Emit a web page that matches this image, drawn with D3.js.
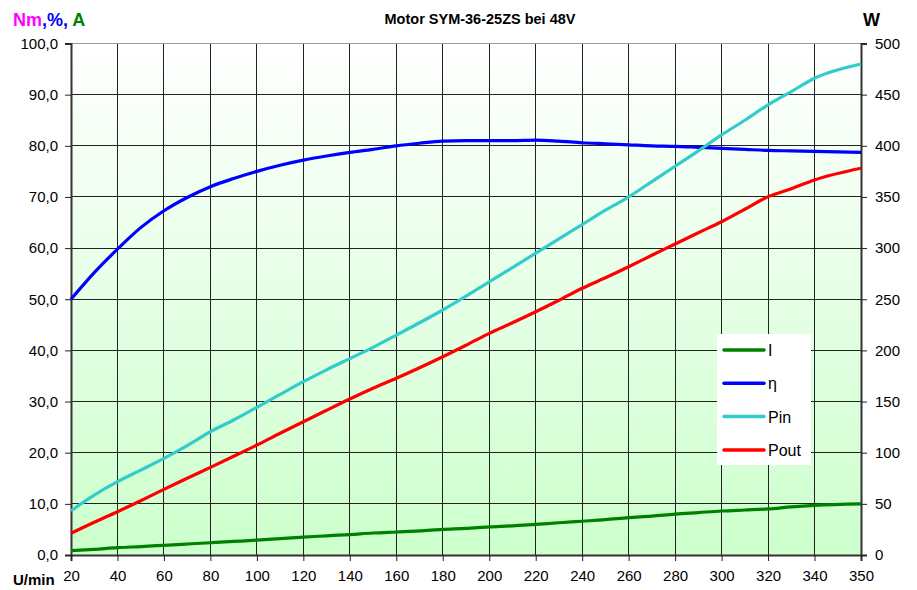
<!DOCTYPE html>
<html>
<head>
<meta charset="utf-8">
<script src="https://cdn.jsdelivr.net/npm/d3@7"></script>
<style>
  body { margin: 0; background: #fff; }
  text { font-family: Arial, "Liberation Sans", sans-serif; }
</style>
</head>
<body>
<div id="chart"></div>
<script>
// speed (U/min)
var speed = [20, 30, 40, 50, 60, 70, 80, 90, 100, 110, 120, 130, 140, 150, 160, 170, 180,
  190, 200, 210, 220, 230, 240, 250, 260, 270, 280, 290, 300, 310, 320, 330, 340, 350];

// current I (A), left axis
var current = [0.84, 1.1, 1.43, 1.65, 1.9, 2.15, 2.4, 2.65, 2.9, 3.2, 3.5, 3.75, 4.0, 4.3, 4.5, 4.7, 5.0,
  5.2, 5.5, 5.7, 6.0, 6.3, 6.6, 6.9, 7.3, 7.6, 8.0, 8.3, 8.6, 8.8, 9.0, 9.4, 9.7, 10.0];

// efficiency eta (%), left axis
var eta = [50.0, 55.2, 59.8, 64.0, 67.3, 69.9, 72.0, 73.6, 75.0, 76.2, 77.2, 78.0, 78.7, 79.3, 80.0, 80.5, 80.9,
  81.0, 81.0, 81.0, 81.1, 80.9, 80.6, 80.4, 80.2, 80.0, 79.9, 79.7, 79.5, 79.3, 79.1, 79.0, 78.9, 78.7];

// input power (W), right axis
var pin = [43.3, 58.6, 71.7, 83, 94.5, 107, 120.5, 132, 144.4, 157, 169.4, 181, 192, 203, 215, 227, 239.5,
  253, 267, 281, 295, 309, 323, 337, 350, 365, 380, 395, 410.6, 425, 440, 453, 466, 480];

// output power (W), right axis
var pout = [21.2, 32, 42.3, 53, 64.2, 75, 85.7, 96.5, 107.5, 119, 130.3, 141.5, 152.5, 163, 172.7, 183, 193.8,
  205, 216.7, 227, 237.8, 249, 260.7, 271, 281.8, 293, 304, 315, 325.8, 338, 350.3, 358, 366.6, 378];

var xTicks = [20, 40, 60, 80, 100, 120, 140, 160, 180, 200, 220, 240, 260, 280, 300, 320, 340, 350];
var leftTicks = [0, 10, 20, 30, 40, 50, 60, 70, 80, 90, 100];
var rightTicks = [0, 50, 100, 150, 200, 250, 300, 350, 400, 450, 500];

var series = [
  { name: "I", values: current, axis: "left", color: "#008000" },
  { name: "η", values: eta, axis: "left", color: "#0000ff" },
  { name: "Pin", values: pin, axis: "right", color: "#33cccc" },
  { name: "Pout", values: pout, axis: "right", color: "#ff0000" }
];

var W = 917, H = 590;
var pL = 71, pR = 861, pT = 43.5, pB = 555;

var svg = d3.select("#chart").append("svg")
  .attr("width", W)
  .attr("height", H);

// category-style axis: every labelled step has the same width
var step = (pR - pL) / 17;
var x = d3.scaleLinear()
  .domain([20, 340, 350])
  .range([pL, pL + 16 * step, pR]);

var yL = d3.scaleLinear().domain([0, 100]).range([pB, pT]);
var yR = d3.scaleLinear().domain([0, 500]).range([pB, pT]);

var defs = svg.append("defs");
var grad = defs.append("linearGradient")
  .attr("id", "bg")
  .attr("x1", 0).attr("y1", 0).attr("x2", 0).attr("y2", 1);
grad.append("stop").attr("offset", "0%").attr("stop-color", "#ffffff");
grad.append("stop").attr("offset", "100%").attr("stop-color", "#ccffcc");

svg.append("rect")
  .attr("x", pL).attr("y", pT)
  .attr("width", pR - pL).attr("height", pB - pT)
  .attr("fill", "url(#bg)");

// grid
var grid = svg.append("g").attr("stroke", "#222").attr("stroke-width", 1).attr("shape-rendering", "crispEdges");
grid.selectAll(".h").data(leftTicks.slice(1))
  .enter().append("line")
  .attr("x1", pL).attr("x2", pR)
  .attr("y1", function (d) { return yL(d); })
  .attr("y2", function (d) { return yL(d); })
  .attr("stroke", function (d) { return d == 100 ? "#999" : "#222"; });
grid.selectAll(".v").data(xTicks.slice(1))
  .enter().append("line")
  .attr("x1", function (d) { return x(d); })
  .attr("x2", function (d) { return x(d); })
  .attr("y1", pT).attr("y2", pB);

// axes
var fmt = function (d) { return d3.format(".1f")(d).replace(".", ","); };

var axL = svg.append("g")
  .attr("transform", "translate(" + pL + ",0)")
  .call(d3.axisLeft(yL).tickValues(leftTicks).tickFormat(fmt).tickSize(6).tickPadding(7));
var axR = svg.append("g")
  .attr("transform", "translate(" + pR + ",0)")
  .call(d3.axisRight(yR).tickValues(rightTicks).tickFormat(d3.format("d")).tickSize(6).tickPadding(8));
var axB = svg.append("g")
  .attr("transform", "translate(0," + pB + ")")
  .call(d3.axisBottom(x).tickValues(xTicks).tickFormat(d3.format("d")).tickSize(6).tickPadding(9));

[axL, axR, axB].forEach(function (a) {
  a.selectAll("text").attr("font-size", 15).attr("fill", "#000")
    .style("font-family", "Arial, 'Liberation Sans', sans-serif");
  a.select(".domain").attr("stroke", "#333").attr("stroke-width", 2);
  a.selectAll(".tick line").attr("stroke", "#222");
});
axB.selectAll("text").attr("dy", "0.71em");

// lines
series.forEach(function (s) {
  var y = s.axis == "left" ? yL : yR;
  var line = d3.line()
    .curve(d3.curveMonotoneX)
    .x(function (d, i) { return x(speed[i]); })
    .y(function (d) { return y(d); });
  svg.append("path")
    .datum(s.values)
    .attr("fill", "none")
    .attr("stroke", s.color)
    .attr("stroke-width", 3.2)
    .attr("stroke-linejoin", "round")
    .attr("d", line);
});

// titles
svg.append("text")
  .attr("x", 480).attr("y", 24)
  .attr("text-anchor", "middle")
  .attr("font-size", 14.5).attr("font-weight", "bold")
  .text("Motor SYM-36-25ZS bei 48V");

var unitL = svg.append("text")
  .attr("x", 13).attr("y", 26)
  .attr("font-size", 18).attr("font-weight", "bold");
unitL.append("tspan").attr("fill", "#ff00ff").text("Nm");
unitL.append("tspan").attr("fill", "#0000ff").text(",%, ");
unitL.append("tspan").attr("fill", "#008000").text("A");

svg.append("text")
  .attr("x", 863).attr("y", 26)
  .attr("font-size", 18).attr("font-weight", "bold")
  .text("W");

svg.append("text")
  .attr("x", 13).attr("y", 585)
  .attr("font-size", 15).attr("font-weight", "bold")
  .text("U/min");

// legend
var lg = svg.append("g").attr("transform", "translate(717,334)");
lg.append("rect")
  .attr("width", 94).attr("height", 131)
  .attr("fill", "#fff");
var item = lg.selectAll(".item").data(series)
  .enter().append("g")
  .attr("transform", function (d, i) { return "translate(0," + (16 + i * 33.3) + ")"; });
item.append("line")
  .attr("x1", 7).attr("x2", 47)
  .attr("stroke", function (d) { return d.color; })
  .attr("stroke-width", 3.5)
  .attr("stroke-linecap", "round");
item.append("text")
  .attr("x", 51).attr("y", 6)
  .attr("font-size", 16)
  .text(function (d) { return d.name; });
</script>
</body>
</html>
